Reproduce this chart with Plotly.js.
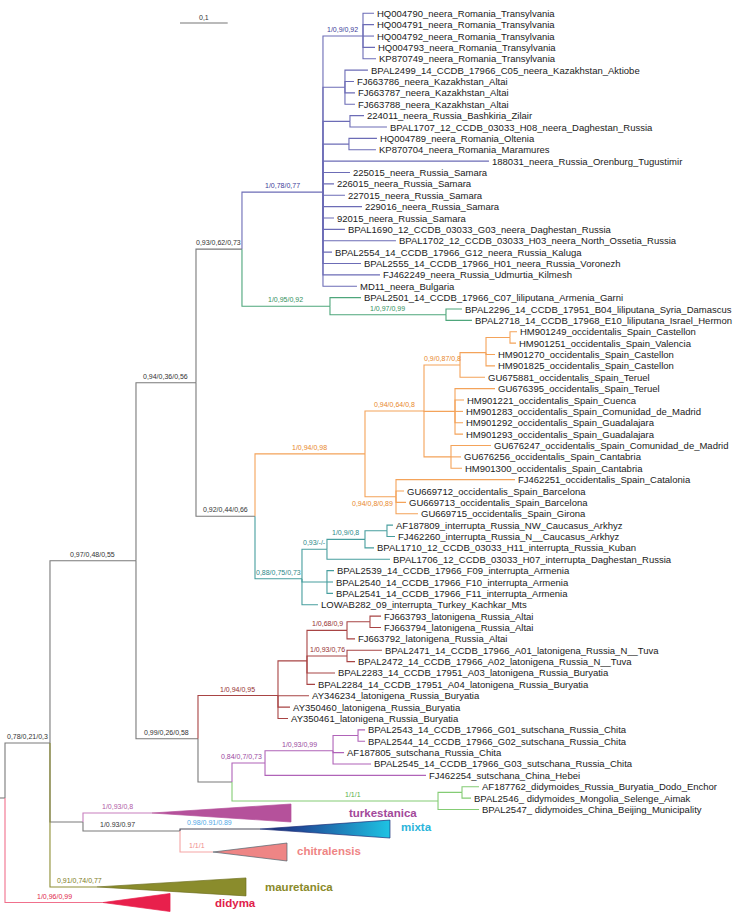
<!DOCTYPE html>
<html><head><meta charset="utf-8">
<script src="https://cdn.plot.ly/plotly-3.0.1.min.js"></script>
<style>html,body{margin:0;padding:0;background:#fff}</style>
</head><body><div id="plot" style="width:735px;height:919px"></div>
<script>
// ---------------- DATA ----------------
const backboneIds     = ['root','G','M','K','N1','P','Q','S','X','Y'];
const backboneParents = [null,'root','G','M','K','K','M','Q','G','X'];
const backboneLengths = [0,0.0943,0.1803,0.1258,0.0964,0.1237,0.1300,0.0713,0.0692,0.2034];

const neeraIds = ['NE','A','HQ004790_neera_Romania_Transylvania','HQ004791_neera_Romania_Transylvania','HQ004792_neera_Romania_Transylvania','HQ004793_neera_Romania_Transylvania','KP870749_neera_Romania_Transylvania',
 'B','BPAL2499_14_CCDB_17966_C05_neera_Kazakhstan_Aktiobe','FJ663786_neera_Kazakhstan_Altai','FJ663787_neera_Kazakhstan_Altai','FJ663788_neera_Kazakhstan_Altai',
 'C','224011_neera_Russia_Bashkiria_Zilair','BPAL1707_12_CCDB_03033_H08_neera_Daghestan_Russia',
 'D','HQ004789_neera_Romania_Oltenia','KP870704_neera_Romania_Maramures',
 '188031_neera_Russia_Orenburg_Tugustimir','225015_neera_Russia_Samara','226015_neera_Russia_Samara','227015_neera_Russia_Samara','229016_neera_Russia_Samara','92015_neera_Russia_Samara',
 'BPAL1690_12_CCDB_03033_G03_neera_Daghestan_Russia','BPAL1702_12_CCDB_03033_H03_neera_North_Ossetia_Russia','BPAL2554_14_CCDB_17966_G12_neera_Russia_Kaluga','BPAL2555_14_CCDB_17966_H01_neera_Russia_Voronezh','FJ462249_neera_Russia_Udmurtia_Kilmesh','MD11_neera_Bulgaria'];
const neeraParents = ['N1','NE','A','A','A','A','A','NE','B','B','B','B','NE','C','C','NE','D','D','NE','NE','NE','NE','NE','NE','NE','NE','NE','NE','NE','NE'];
const neeraLengths = [0.1698,0.0839,0.0231,0.0231,0.0231,0.0252,0.0273,0.0461,0.0482,0.0189,0.0210,0.0210,0.0566,0.0294,0.0776,0.0545,0.0587,0.0566,0.3480,0.0566,0.0231,0.0461,0.0818,0.0231,0.0461,0.1530,0.0189,0.0797,0.1195,0.0713];

const liliputanaIds = ['L','BPAL2501_14_CCDB_17966_C07_liliputana_Armenia_Garni','L2','BPAL2296_14_CCDB_17951_B04_liliputana_Syria_Damascus','BPAL2718_14_CCDB_17968_E10_liliputana_Israel_Hermon'];
const liliputanaParents = ['N1','L','L','L2','L2'];
const liliputanaLengths = [0.1845,0.0650,0.2432,0.0335,0.0545];

const occidentalisIds = ['O0','O1','O2','O3','O4','HM901249_occidentalis_Spain_Castellon','HM901251_occidentalis_Spain_Valencia','HM901270_occidentalis_Spain_Castellon','HM901825_occidentalis_Spain_Castellon','GU675881_occidentalis_Spain_Teruel',
 'O5','GU676395_occidentalis_Spain_Teruel','HM901221_occidentalis_Spain_Cuenca','HM901283_occidentalis_Spain_Comunidad_de_Madrid','HM901292_occidentalis_Spain_Guadalajara','HM901293_occidentalis_Spain_Guadalajara',
 'O6','GU676247_occidentalis_Spain_Comunidad_de_Madrid','GU676256_occidentalis_Spain_Cantabria','HM901300_occidentalis_Spain_Cantabria',
 'O7','FJ462251_occidentalis_Spain_Catalonia','GU669712_occidentalis_Spain_Barcelona','GU669713_occidentalis_Spain_Barcelona','GU669715_occidentalis_Spain_Girona'];
const occidentalisParents = ['P','O0','O1','O2','O3','O4','O4','O3','O3','O2','O1','O5','O5','O5','O5','O5','O1','O6','O6','O6','O0','O7','O7','O7','O7'];
const occidentalisLengths = [0.2306,0.1237,0.0755,0.0545,0.0503,0.0147,0.0126,0.0189,0.0189,0.0524,0.0650,0.0839,0.0189,0.0168,0.0168,0.0168,0.0566,0.0839,0.0210,0.0231,0.0650,0.2495,0.0168,0.0210,0.0461];

const interruptaIds = ['T','T1','T1a','T1aa','AF187809_interrupta_Russia_NW_Caucasus_Arkhyz','FJ462260_interrupta_Russia_N__Caucasus_Arkhyz','BPAL1710_12_CCDB_03033_H11_interrupta_Russia_Kuban','BPAL1706_12_CCDB_03033_H07_interrupta_Daghestan_Russia',
 'T2','BPAL2539_14_CCDB_17966_F09_interrupta_Armenia','BPAL2540_14_CCDB_17966_F10_interrupta_Armenia','BPAL2541_14_CCDB_17966_F11_interrupta_Armenia','LOWAB282_09_interrupta_Turkey_Kachkar_Mts'];
const interruptaParents = ['P','T','T1','T1a','T1aa','T1aa','T1a','T1','T','T2','T2','T2','T'];
const interruptaLengths = [0.0985,0.0524,0.0797,0.0461,0.0126,0.0168,0.0189,0.1321,0.0524,0.0147,0.0126,0.0126,0.0335];

const latonigenaIds = ['LB','LA','LA1','LA1a','FJ663793_latonigena_Russia_Altai','FJ663794_latonigena_Russia_Altai','FJ663792_latonigena_Russia_Altai',
 'LA2','BPAL2471_14_CCDB_17966_A01_latonigena_Russia_N__Tuva','BPAL2472_14_CCDB_17966_A02_latonigena_Russia_N__Tuva','BPAL2283_14_CCDB_17951_A03_latonigena_Russia_Buryatia','BPAL2284_14_CCDB_17951_A04_latonigena_Russia_Buryatia',
 'AY346234_latonigena_Russia_Buryatia','AY350460_latonigena_Russia_Buryatia','AY350461_latonigena_Russia_Buryatia'];
const latonigenaParents = ['Q','LB','LA','LA1','LA1a','LA1a','LA1','LA','LA2','LA2','LA','LA','LB','LB','LB'];
const latonigenaLengths = [0.1677,0.0608,0.0839,0.0482,0.0231,0.0231,0.0168,0.0839,0.0734,0.0168,0.0587,0.0168,0.0650,0.0252,0.0210];

const sutschanaIds = ['SU','SU1','SU1a','BPAL2543_14_CCDB_17966_G01_sutschana_Russia_Chita','BPAL2544_14_CCDB_17966_G02_sutschana_Russia_Chita','AF187805_sutschana_Russia_Chita','BPAL2545_14_CCDB_17966_G03_sutschana_Russia_Chita','FJ462254_sutschana_China_Hebei'];
const sutschanaParents = ['S','SU','SU1','SU1a','SU1a','SU1','SU1','SU'];
const sutschanaLengths = [0.0692,0.1426,0.0524,0.0147,0.0147,0.0231,0.0797,0.3375];

const didymoidesIds = ['DI','DI1','AF187762_didymoides_Russia_Buryatia_Dodo_Enchor','BPAL2546_ didymoides_Mongolia_Selenge_Aimak','BPAL2547_ didymoides_China_Beijing_Municipality'];
const didymoidesParents = ['S','DI','DI1','DI1','DI'];
const didymoidesLengths = [0.4319,0.0503,0.0356,0.0189,0.0860];

const collapsedNames   = ['turkestanica','mixta','chitralensis','mauretanica','didyma'];
const collapsedParents = ['X','Y','Y','G','root'];
const collapsedStem    = [0.1447,0.1677,0.0692,0.0985,0.2055];
const collapsedDepth   = [0.2914,0.2725,0.1551,0.3124,0.1405];
const collapsedRow     = [70.31,71.72,73.74,76.81,78.18];

const placedNodeIds  = ['root','G','Y'];
const placedNodeRows = [68.99,64.15,71.89];

const supportIds = ['G','M','K','N1','P','Q','Y','NE','A','L','L2','O0','O1','O2','O7','T','T1','T1a','LB','LA1','LA2','SU','SU1','DI','turkestanica','mixta','chitralensis','mauretanica','didyma'];
const supportText = ['0,78/0,21/0,3','0,97/0,48/0,55','0,94/0,36/0,56','0,93/0,62/0,73','0,92/0,44/0,66','0,99/0,26/0,58','1/0.93/0.97','1/0,78/0,77','1/0,9/0,92','1/0,95/0,92','1/0,97/0,99','1/0,94/0,98','0,94/0,64/0,8','0,9/0,87/0,8','0,94/0,8/0,89','0,88/0,75/0,73','0,93/-/-','1/0,9/0,8','1/0,94/0,95','1/0,68/0,9','1/0,93/0,76','0,84/0,7/0,73','1/0,93/0,99','1/1/1','1/0,93/0,8','0.98/0.91/0.89','1/1/1','0,91/0,74/0,77','1/0,96/0,99'];

const scaleBarLength = 0.1;
const scaleBarLabel = '0,1';

// ---------------- STYLE ----------------
const STYLE = {
  base:{line:'#7a7a7a',label:'#333333'},
  neera:{line:'#6c6cb6',label:'#3c3c98'},
  liliputana:{line:'#4ea67b',label:'#34905e'},
  occidentalis:{line:'#f4a35a',label:'#e8872a'},
  interrupta:{line:'#479e9e',label:'#2c8888'},
  latonigena:{line:'#a84444',label:'#963030'},
  sutschana:{line:'#b063b8',label:'#9a48a0'},
  didymoides:{line:'#84cc74',label:'#58b048'},
  turkestanica:{line:'#c87fbe',label:'#b05aa6',fill:'#b5519b',edge:'#b5519b',name:'#a3489a',dx:56,dy:0},
  mixta:{line:'#4a4a5a',label:'#52a8e6',fill:'#1ec3e3',edge:'#1d2f78',name:'#2ab4da',dx:9,dy:-2,grad:[[0,'#1d2a6e'],[0.3,'#1f4a98'],[1,'#1ec3e3']]},
  chitralensis:{line:'#f5a5a5',label:'#f08a8a',fill:'#ee8585',edge:'#4d6570',name:'#ef8585',dx:8,dy:-1},
  mauretanica:{line:'#8e8e34',label:'#7c7c22',fill:'#8a8c2c',edge:'#6f7020',name:'#8a8a2a',dx:17,dy:0},
  didyma:{line:'#f0708c',label:'#e0284a',fill:'#e8204c',edge:'#e8204c',name:'#e0204a',dx:43,dy:0}
};
const supportBelow = ['O7'];
const supportLabelDx = {Y:-14, mixta:-11, DI:18, SU:-7, mauretanica:6, O7:-8};
const FONT = '"Liberation Sans", Arial, sans-serif';
const PXU = 477;
const ROW0 = 13.3, ROWSTEP = 11.374;
const HALF = 0.79;

// ---------------- BUILD TREE ----------------
const nodes = {}; const order = [];
function add(ids, parents, lens, group){
  ids.forEach((id,i)=>{ nodes[id]={id,parent:parents[i],len:lens[i],group,children:[]}; order.push(id); });
}
add(backboneIds,backboneParents,backboneLengths,'base');
add(neeraIds,neeraParents,neeraLengths,'neera');
add(liliputanaIds,liliputanaParents,liliputanaLengths,'liliputana');
add(occidentalisIds,occidentalisParents,occidentalisLengths,'occidentalis');
add(interruptaIds,interruptaParents,interruptaLengths,'interrupta');
add(latonigenaIds,latonigenaParents,latonigenaLengths,'latonigena');
add(sutschanaIds,sutschanaParents,sutschanaLengths,'sutschana');
add(didymoidesIds,didymoidesParents,didymoidesLengths,'didymoides');
collapsedNames.forEach((n,i)=>{ nodes[n]={id:n,parent:collapsedParents[i],len:collapsedStem[i],group:n,children:[],collapsed:true,depthC:collapsedDepth[i],row:collapsedRow[i]}; order.push(n); });
order.forEach(id=>{ const n=nodes[id]; if(n.parent) nodes[n.parent].children.push(id); });
placedNodeIds.forEach((id,i)=>{ nodes[id].row=placedNodeRows[i]; });
let r=0;
order.forEach(id=>{ const n=nodes[id]; if(!n.collapsed && n.children.length===0){ n.row=r++; n.tip=true; } });
function depth(id){ const n=nodes[id]; if(n.x!==undefined) return n.x; n.x = n.parent? depth(n.parent)+n.len : 0; return n.x; }
function row(id){ const n=nodes[id]; if(n.row!==undefined) return n.row; n.row = n.children.map(row).reduce((a,b)=>a+b,0)/n.children.length; return n.row; }
order.forEach(id=>{depth(id);row(id);});

// ---------------- TRACES ----------------
const segs = {};
order.forEach(id=>{
  const n=nodes[id]; if(!n.parent) return; const p=nodes[n.parent];
  const g = segs[n.group] || (segs[n.group]={x:[],y:[]});
  g.x.push(p.x,p.x,n.x,null); g.y.push(p.row,n.row,n.row,null);
});
const traces=[];
traces.push({x:[-5/PXU,0],y:[nodes.root.row,nodes.root.row],mode:'lines',line:{color:STYLE.base.line,width:1.1},hoverinfo:'skip'});
Object.keys(segs).forEach(g=>traces.push({x:segs[g].x,y:segs[g].y,mode:'lines',line:{color:STYLE[g].line,width:1.1},hoverinfo:'skip'}));
collapsedNames.forEach(nm=>{
  const n=nodes[nm], s=STYLE[nm];
  const t={x:[n.x,n.x+n.depthC,n.x+n.depthC,n.x],y:[n.row,n.row-HALF,n.row+HALF,n.row],mode:'lines',fill:'toself',
    fillcolor:s.fill,line:{color:s.edge,width:0.7},hoverinfo:'skip'};
  if(s.grad) t.fillgradient={type:'horizontal',colorscale:s.grad};
  traces.push(t);
});
const sbX0 = (180-5)/PXU, sbRow=(23-ROW0)/ROWSTEP;
traces.push({x:[sbX0,sbX0+scaleBarLength],y:[sbRow,sbRow],mode:'lines',line:{color:'#777',width:1.1},hoverinfo:'skip'});

// ---------------- ANNOTATIONS ----------------
const ann=[];
order.forEach(id=>{ const n=nodes[id]; if(n.tip) ann.push({x:n.x,y:n.row,text:id,xanchor:'left',yanchor:'middle',xshift:1,showarrow:false,font:{family:FONT,size:9.5,color:'#1b1b1b'}}); });
supportIds.forEach((id,i)=>{
  const n=nodes[id], p=nodes[n.parent];
  const below = supportBelow.includes(id);
  ann.push({x:(p.x+n.x)/2,y:n.row,text:supportText[i],xanchor:'center',yanchor:'middle',xshift:supportLabelDx[id]||0,yshift:below?-6.5:6.5,showarrow:false,
    font:{family:FONT,size:7,color:STYLE[n.group].label}});
});
collapsedNames.forEach(nm=>{
  const n=nodes[nm], s=STYLE[nm];
  ann.push({x:n.x+n.depthC,y:n.row,text:'<b>'+nm+'</b>',xanchor:'left',yanchor:'middle',xshift:s.dx,yshift:-s.dy,showarrow:false,
    font:{family:FONT,size:11.5,color:s.name}});
});
ann.push({x:sbX0+scaleBarLength/2,y:sbRow,text:scaleBarLabel,xanchor:'center',yanchor:'middle',yshift:6,showarrow:false,font:{family:FONT,size:7,color:'#333'}});

const layout={width:735,height:919,margin:{l:0,r:0,t:0,b:0},paper_bgcolor:'#fff',plot_bgcolor:'#fff',showlegend:false,
  xaxis:{range:[-5/PXU,730/PXU],visible:false,fixedrange:true},
  yaxis:{range:[(919-ROW0)/ROWSTEP,-ROW0/ROWSTEP],visible:false,fixedrange:true},
  annotations:ann};
Plotly.newPlot('plot',traces,layout,{staticPlot:true,displayModeBar:false});
</script></body></html>
